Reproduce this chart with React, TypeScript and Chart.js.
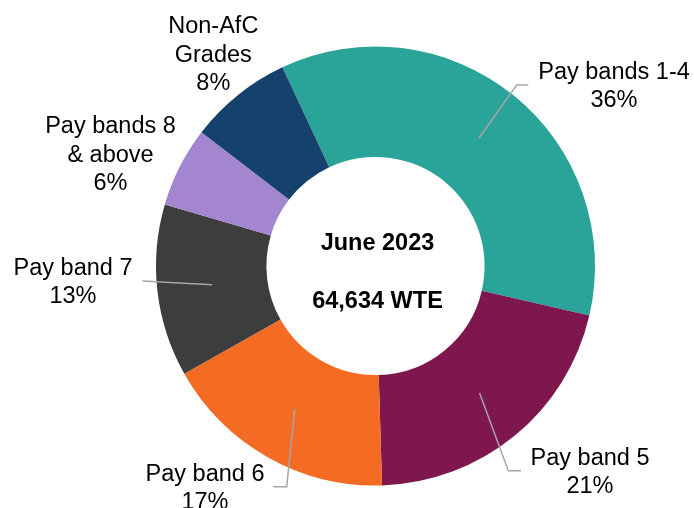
import React, { useEffect, useRef } from "react";
import { Chart, registerables } from "chart.js";

Chart.register(...registerables);

const categories = [
  "Pay bands 1-4",
  "Pay band 5",
  "Pay band 6",
  "Pay band 7",
  "Pay bands 8 & above",
  "Non-AfC Grades",
];
const labelLines = [
  ["Pay bands 1-4"],
  ["Pay band 5"],
  ["Pay band 6"],
  ["Pay band 7"],
  ["Pay bands 8", "& above"],
  ["Non-AfC", "Grades"],
];
const shares = [35.6, 20.9, 17.3, 12.7, 5.9, 7.6];
const colors = ["#2AA398", "#7E174E", "#F46B24", "#3D3D3D", "#A386CF", "#14426C"];
const centerTitle = "June 2023";
const centerValue = "64,634 WTE";

// label placement relative to the chart centre: text anchor (centre x, first baseline) and leader points
const labelLayout = [
  { text: [238.5, -187], leader: [[141.2, -181], [152.8, -181]] },
  { text: [214.5, 199], leader: [[132.8, 204.7], [145.5, 204.7]] },
  { text: [-170.5, 215], leader: [[-88.8, 220.7], [-102.2, 220.7]] },
  { text: [-302.5, 9], leader: [[-233.2, 15]] },
  { text: [-265, -132.7], leader: null },
  { text: [-162.2, -232.7], leader: null },
];

const FONT = "'Liberation Sans', Arial, sans-serif";
const FONT_SIZE = 23.5;
const LINE_H = 28.2;

const labelPlugin = {
  id: "sliceLabels",
  afterDatasetsDraw(chart: any) {
    const meta = chart.getDatasetMeta(0);
    const ctx = chart.ctx as CanvasRenderingContext2D;
    const data = chart.data.datasets[0].data as number[];
    const total = data.reduce((a, b) => a + b, 0);
    const a0 = meta.data[0];
    const cx = a0.x;
    const cy = a0.y;
    ctx.save();
    meta.data.forEach((arc: any, i: number) => {
      const lay = labelLayout[i];
      if (lay.leader) {
        const s = arc.getCenterPoint();
        ctx.beginPath();
        ctx.moveTo(s.x, s.y);
        lay.leader.forEach((p) => ctx.lineTo(cx + p[0], cy + p[1]));
        ctx.strokeStyle = "#A6A6A6";
        ctx.lineWidth = 1.5;
        ctx.stroke();
      }
      const lines = [...labelLines[i], Math.round((data[i] / total) * 100) + "%"];
      ctx.fillStyle = "#000000";
      ctx.font = `${FONT_SIZE}px ${FONT}`;
      ctx.textAlign = "center";
      ctx.textBaseline = "alphabetic";
      lines.forEach((t, k) => {
        ctx.fillText(t, cx + lay.text[0], cy + lay.text[1] + k * LINE_H);
      });
    });
    ctx.font = `bold ${FONT_SIZE}px ${FONT}`;
    ctx.textAlign = "center";
    ctx.fillStyle = "#000000";
    ctx.fillText(centerTitle, cx + 2, cy - 16);
    ctx.fillText(centerValue, cx + 2, cy + 41.7);
    ctx.restore();
  },
};

export default function App() {
  const ref = useRef<HTMLCanvasElement>(null);
  useEffect(() => {
    if (!ref.current) return;
    const chart = new Chart(ref.current, {
      type: "doughnut",
      data: {
        labels: categories,
        datasets: [
          {
            data: shares,
            backgroundColor: colors,
            borderWidth: 0,
          },
        ],
      },
      options: {
        responsive: false,
        maintainAspectRatio: false,
        animation: false,
        devicePixelRatio: 1,
        rotation: -25.1,
        cutout: "49.7%",
        layout: { padding: { left: 156, right: 99, top: 46.5, bottom: 22.5 } },
        plugins: {
          legend: { display: false },
          tooltip: { enabled: false },
        },
      },
      plugins: [labelPlugin],
    });
    return () => chart.destroy();
  }, []);
  return (
    <div style={{ position: "fixed", left: 0, top: 0, width: 694, height: 508, background: "#fff" }}>
      <canvas ref={ref} width={694} height={508} style={{ display: "block" }} />
    </div>
  );
}
